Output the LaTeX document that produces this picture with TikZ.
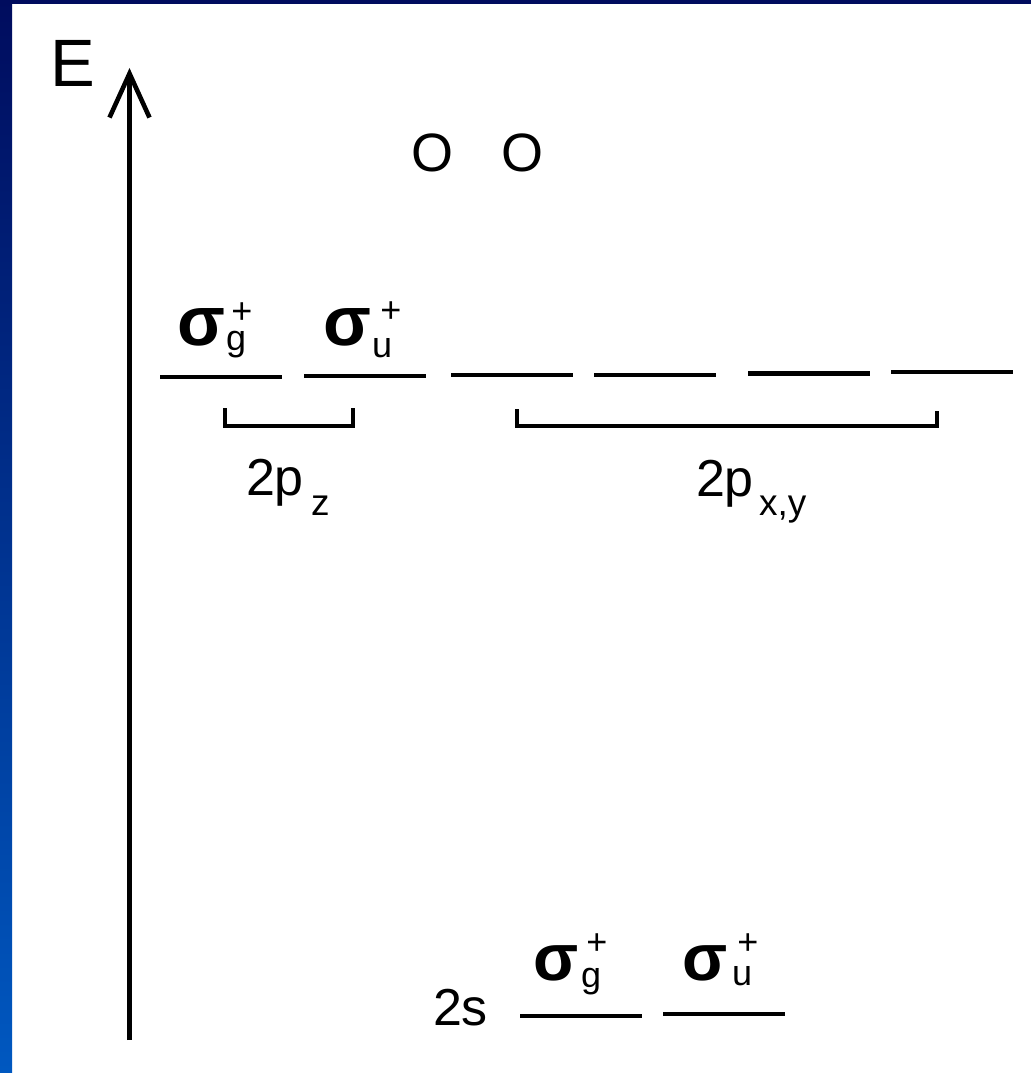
\documentclass[tikz,border=0pt]{standalone}
\usepackage{fontspec}
\setmainfont{Liberation Sans}
\usetikzlibrary{arrows.meta}
\definecolor{navytop}{HTML}{000C5E}
\definecolor{bluebot}{HTML}{0058C0}
\begin{document}
\begin{tikzpicture}[x=1pt,y=-1pt,
  lvl/.style={line width=4.6pt},
  brk/.style={line width=4.6pt,line join=miter},
  tx/.style={inner sep=0pt,outer sep=0pt},
  big/.style={tx,font=\fontsize{52}{60}\selectfont},
  sigU/.style={tx,font=\bfseries\fontsize{70}{76}\selectfont},
  sigL/.style={tx,font=\bfseries\fontsize{66}{72}\selectfont},
  subs/.style={tx,font=\fontsize{36}{40}\selectfont},
  sups/.style={tx,font=\fontsize{36}{40}\selectfont},
  pind/.style={tx,font=\fontsize{37}{40}\selectfont}]
\useasboundingbox (0,0) rectangle (1031,1073);
\fill[white] (0,0) rectangle (1031,1073);
\shade[top color=navytop,bottom color=bluebot] (0,0) rectangle (12,1073);
\fill[navytop] (0,0) rectangle (1031,4);

% energy axis
\coordinate (axbot) at (129.5,1040);
\coordinate (axtop) at (129.5,68);
\draw[line width=4.6pt,-{Straight Barb[length=44pt,width=40pt,line width=4.6pt]}] (axbot) -- (axtop);
\node[tx,anchor=base,font=\fontsize{67}{70}\selectfont] (E) at (73,86) {E};

% O O
\node[tx,anchor=base,font=\fontsize{54}{60}\selectfont] (O1) at (432,171) {O};
\node[tx,anchor=base,font=\fontsize{54}{60}\selectfont] (O2) at (522,171) {O};

% upper levels
\draw[lvl] (160,377) -- (282,377);
\draw[lvl] (304,376) -- (426,376);
\draw[lvl] (451,375) -- (573,375);
\draw[lvl] (594,375) -- (716,375);
\draw[lvl] (748,373.5) -- (870,373.5);
\draw[lvl] (891,372) -- (1013,372);

% upper labels
\node[sigU,anchor=base] (s1) at (201,345) {σ};
\node[subs,anchor=base west] (g1) at (226,350) {g};
\node[sups] (p1) at (242,313) {+};
\node[sigU,anchor=base] (s2) at (347,345) {σ};
\node[subs,anchor=base west] (u1) at (372,357) {u};
\node[sups] (p2) at (391,312) {+};

% brackets
\draw[brk] (225,408) -- (225,426) -- (353,426) -- (353,408);
\draw[brk] (517,409) -- (517,426) -- (937,426) -- (937,411);

% 2p labels
\node[big,anchor=base west] (pz) at (246,495) {2p};
\node[pind,anchor=base west] (z) at (311,515) {z};
\node[big,anchor=base west] (pxy) at (696,496) {2p};
\node[pind,anchor=base west] (xy) at (759,515) {x,y};

% lower levels
\draw[lvl] (520,1016) -- (642,1016);
\draw[lvl] (663,1014) -- (785,1014);
\node[big,anchor=base west] (s2s) at (433,1025) {2s};
\node[sigL,anchor=base] (s3) at (556,980) {σ};
\node[subs,anchor=base west] (g2) at (581,987) {g};
\node[sups] (p3) at (597,944) {+};
\node[sigL,anchor=base] (s4) at (705,980) {σ};
\node[subs,anchor=base west] (u2) at (732,985) {u};
\node[sups] (p4) at (748,944) {+};
\end{tikzpicture}
\end{document}
